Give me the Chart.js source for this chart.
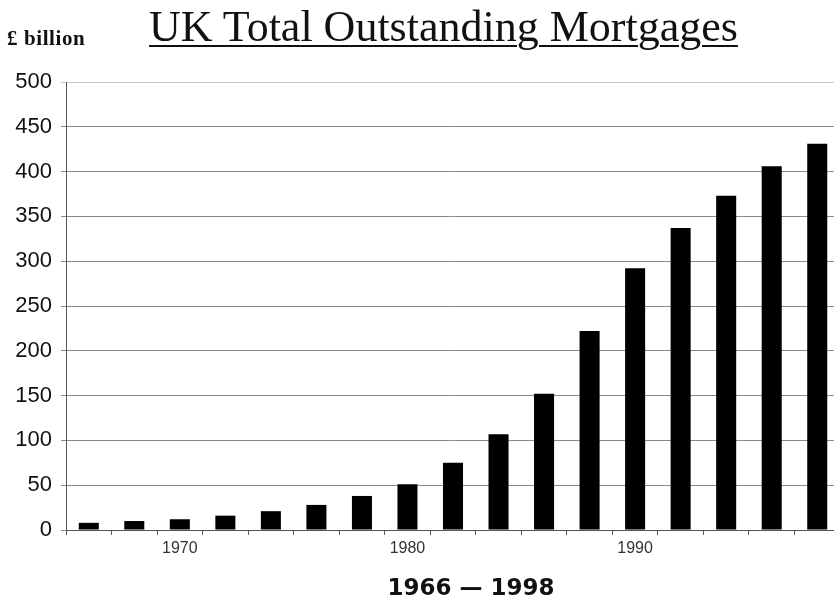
<!DOCTYPE html>
<html>
<head>
<meta charset="utf-8">
<script src="https://cdn.jsdelivr.net/npm/chart.js@4.4.1/dist/chart.umd.min.js"></script>
<style>
  html, body { margin: 0; padding: 0; background: #fff; }
  #wrap { position: relative; width: 834px; height: 597px; overflow: hidden; }
  #c { position: absolute; left: 0; top: 0; }
  .title { position: absolute; left: 0; width: 887px; top: 1px; text-align: center; white-space: nowrap;
    font-family: "Liberation Serif", "Times New Roman", serif; font-size: 44px; color: #111;
    text-decoration: underline; text-decoration-thickness: 2px; text-underline-offset: 4px; }
  .unit { position: absolute; left: 7px; top: 26px; font-family: "Liberation Serif", serif;
    font-weight: bold; font-size: 21px; letter-spacing: 0.6px; color: #111; }
  .range { position: absolute; left: 0; width: 942px; top: 574px; text-align: center; white-space: nowrap;
    font-family: "DejaVu Sans", "Liberation Sans", sans-serif; font-weight: bold; font-size: 23px; color: #111; }
</style>
</head>
<body>
<div id="wrap">
  <canvas id="c" width="840" height="597"></canvas>
  <div class="title">UK Total Outstanding Mortgages</div>
  <div class="unit">£ billion</div>
  <div class="range">1966 — 1998</div>
</div>
<script>
const years = ['1966','1968','1970','1972','1974','1976','1978','1980','1982','1984','1986','1988','1990','1992','1994','1996','1998'];
const mortgages = [8, 10, 12, 16, 21, 28, 38, 51, 75, 107, 152, 222, 292, 337, 373, 406, 431];
const yTicks = [0, 50, 100, 150, 200, 250, 300, 350, 400, 450, 500];
const xLabelYears = ['1970', '1980', '1990'];

new Chart(document.getElementById('c'), {
  type: 'bar',
  data: {
    labels: years,
    datasets: [{
      data: mortgages,
      backgroundColor: '#000',
      borderWidth: 0,
      barPercentage: 0.44,
      categoryPercentage: 1.0
    }]
  },
  options: {
    responsive: false,
    animation: false,
    layout: { padding: { top: 82, left: 0, right: 0, bottom: 0 } },
    plugins: { legend: { display: false }, tooltip: { enabled: false } },
    scales: {
      x: {
        type: 'category',
        offset: true,
        afterFit: s => { s.height = 67; },
        grid: { offset: true, drawOnChartArea: false, color: '#555', tickLength: 5 },
        border: { color: '#555', width: 1 },
        ticks: {
          autoSkip: false, maxRotation: 0, padding: 4,
          color: '#333', font: { family: 'Liberation Sans, Arial, sans-serif', size: 16 },
          callback: function(v) { const l = this.getLabelForValue(v); return xLabelYears.includes(l) ? l : ''; }
        }
      },
      y: {
        min: 0, max: 500,
        afterFit: s => { s.width = 66; },
        afterBuildTicks: s => { s.ticks = yTicks.map(v => ({ value: v })); },
        grid: { color: ctx => (ctx.tick && ctx.tick.value === 500) ? '#c8c8c8' : '#8a8a8a', lineWidth: 1, tickLength: 5 },
        border: { color: '#555', width: 1 },
        ticks: { padding: 9, color: '#111', font: { family: 'Liberation Sans, Arial, sans-serif', size: 22 } }
      }
    }
  }
});
</script>
</body>
</html>
